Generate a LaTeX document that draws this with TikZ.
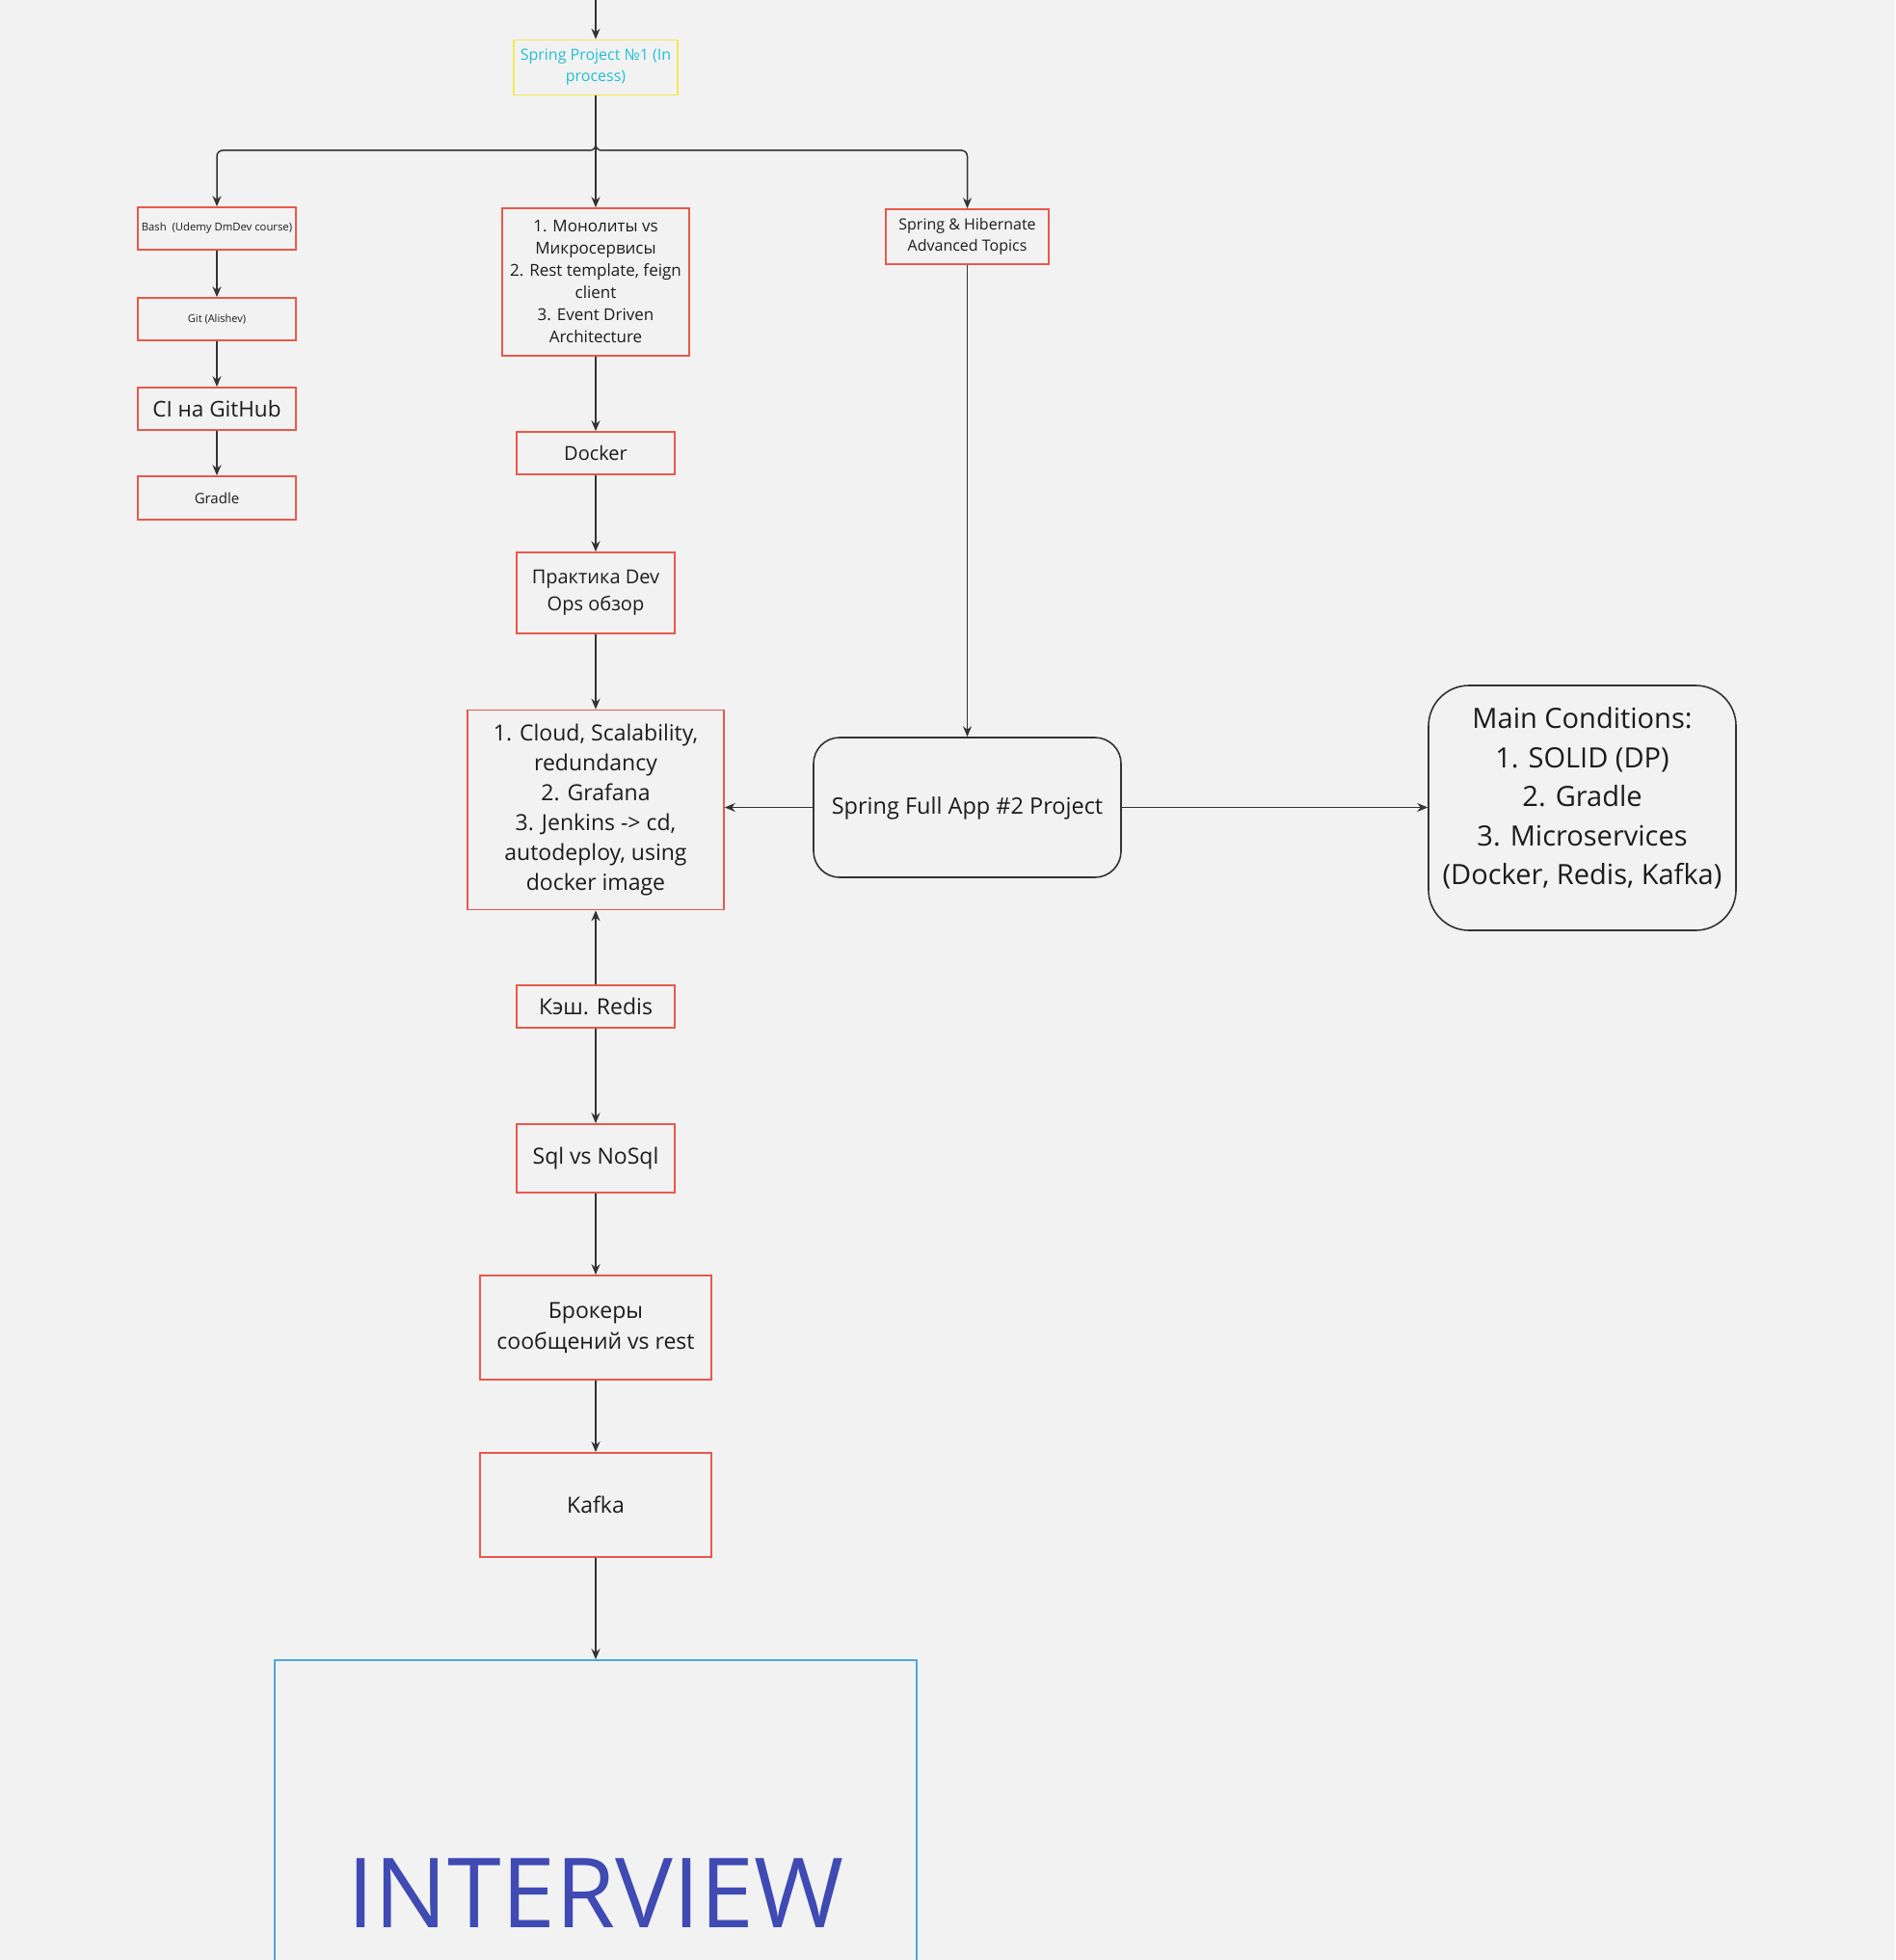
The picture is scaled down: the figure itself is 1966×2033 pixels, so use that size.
\documentclass[tikz,border=0pt]{standalone}
\usepackage{fontspec}
\setmainfont{Open Sans}
\usepackage{tikz}
\usetikzlibrary{positioning, arrows.meta}
\definecolor{bgGray}{HTML}{F2F2F2}
\definecolor{boxRed}{HTML}{E8594A}
\definecolor{lineDark}{HTML}{333333}
\definecolor{textDark}{HTML}{1C1C1C}
\definecolor{projCyan}{HTML}{1FC0D6}
\definecolor{projYellow}{HTML}{F3EA50}
\definecolor{goalBlue}{HTML}{4DA6E0}
\definecolor{goalText}{HTML}{3F4AB3}
\tikzstyle{taskNode}=[draw=boxRed, line width=1.6pt, align=center, inner sep=0pt, text=textDark]
\tikzstyle{roundNode}=[draw=lineDark, line width=1.6pt, align=center, inner sep=0pt, text=textDark]
\tikzstyle{flowArrow}=[-{Stealth[length=11pt, width=9pt]}, line width=1.5pt, draw=lineDark]

\begin{document}
\begin{tikzpicture}[x=1pt, y=-1pt]

    \fill[bgGray] (0,0) rectangle (1966,2033);
    \useasboundingbox (0,0) rectangle (1966,2033);

    % nodes

    \coordinate (start) at (618,0);
    \node[taskNode, draw=projYellow, text=projCyan, minimum width=170pt, minimum height=57pt, font=\fontsize{16}{22}\selectfont] (proj) at (618,70) {Spring Project №1 (In\\process)};
    \coordinate (split) at (618,156);

    \node[taskNode, minimum width=164pt, minimum height=44pt, font=\fontsize{11.3}{15}\selectfont] (bash) at (225,237) {Bash\ \ (Udemy DmDev course)};
    \node[taskNode, minimum width=164pt, minimum height=44pt, font=\fontsize{11}{15}\selectfont] (git) at (225,331) {Git (Alishev)};
    \node[taskNode, minimum width=164pt, minimum height=44pt, font=\fontsize{22.5}{31}\selectfont] (ci) at (225,424) {CI на GitHub};
    \node[taskNode, minimum width=164pt, minimum height=45pt, font=\fontsize{15}{20}\selectfont] (gradle) at (225,516.5) {Gradle};

    \node[taskNode, minimum width=194pt, minimum height=153pt, font=\fontsize{17}{23}\selectfont] (micro) at (618,292.5) {1. Монолиты vs\\Микросервисы\\2. Rest template, feign\\client\\3. Event Driven\\Architecture};
    \node[taskNode, minimum width=164pt, minimum height=44pt, font=\fontsize{20}{28}\selectfont] (docker) at (618,470) {Docker};
    \node[taskNode, minimum width=164pt, minimum height=84pt, font=\fontsize{20}{28}\selectfont] (devops) at (618,615) {Практика Dev\\Ops обзор};
    \node[taskNode, minimum width=266pt, minimum height=207pt, font=\fontsize{23}{31}\selectfont] (cloud) at (618,840) {1. Cloud, Scalability,\\redundancy\\2. Grafana\\3. Jenkins -> cd,\\autodeploy, using\\docker image};
    \node[taskNode, minimum width=164pt, minimum height=44pt, font=\fontsize{23}{31}\selectfont] (redis) at (618,1044) {Кэш. Redis};
    \node[taskNode, minimum width=164pt, minimum height=71pt, font=\fontsize{23}{31}\selectfont] (sql) at (618,1201.5) {Sql vs NoSql};
    \node[taskNode, minimum width=240pt, minimum height=108pt, font=\fontsize{23}{32}\selectfont] (brokers) at (618,1377) {Брокеры\\сообщений vs rest};
    \node[taskNode, minimum width=240pt, minimum height=108pt, font=\fontsize{23}{31}\selectfont] (kafka) at (618,1561) {Kafka};
    \node[taskNode, draw=goalBlue, text=goalText, minimum width=666pt, minimum height=484pt, font=\fontsize{100.5}{120}\selectfont] (interview) at (618,1964) {INTERVIEW};

    \node[taskNode, minimum width=169pt, minimum height=57pt, font=\fontsize{16}{22}\selectfont] (hib) at (1003.5,245.5) {Spring \& Hibernate\\Advanced Topics};
    \node[roundNode, rounded corners=27pt, minimum width=319pt, minimum height=145pt, font=\fontsize{23.5}{31}\selectfont] (fullapp) at (1003.5,837.5) {Spring Full App \#2 Project\\[-27pt]\mbox{}};
    \node[roundNode, rounded corners=42pt, minimum width=319pt, minimum height=254pt, font=\fontsize{29}{40.5}\selectfont] (cond) at (1641.5,838) {Main Conditions:\\1. SOLID (DP)\\2. Gradle\\3. Microservices\\(Docker, Redis, Kafka)\\[-16pt]\mbox{}};

    % transitions

    \draw[flowArrow] (start) -- (proj);
    \draw[flowArrow] (proj) -- (micro);
    \draw[flowArrow, rounded corners=6pt] (proj.south) -- (split) -| (bash.north);
    \draw[flowArrow, rounded corners=6pt] (proj.south) -- (split) -| (hib.north);

    \draw[flowArrow] (bash) -- (git);
    \draw[flowArrow] (git) -- (ci);
    \draw[flowArrow] (ci) -- (gradle);

    \draw[flowArrow] (micro) -- (docker);
    \draw[flowArrow] (docker) -- (devops);
    \draw[flowArrow] (devops) -- (cloud);
    \draw[flowArrow] (redis) -- (cloud);
    \draw[flowArrow] (redis) -- (sql);
    \draw[flowArrow] (sql) -- (brokers);
    \draw[flowArrow] (brokers) -- (kafka);
    \draw[flowArrow] (kafka) -- (interview.north);

    \draw[flowArrow] (hib) -- (fullapp);
    \draw[flowArrow] (fullapp.west) -- (cloud.east |- fullapp.west);
    \draw[flowArrow] (fullapp.east) -- (cond.west |- fullapp.east);

\end{tikzpicture}
\end{document}
